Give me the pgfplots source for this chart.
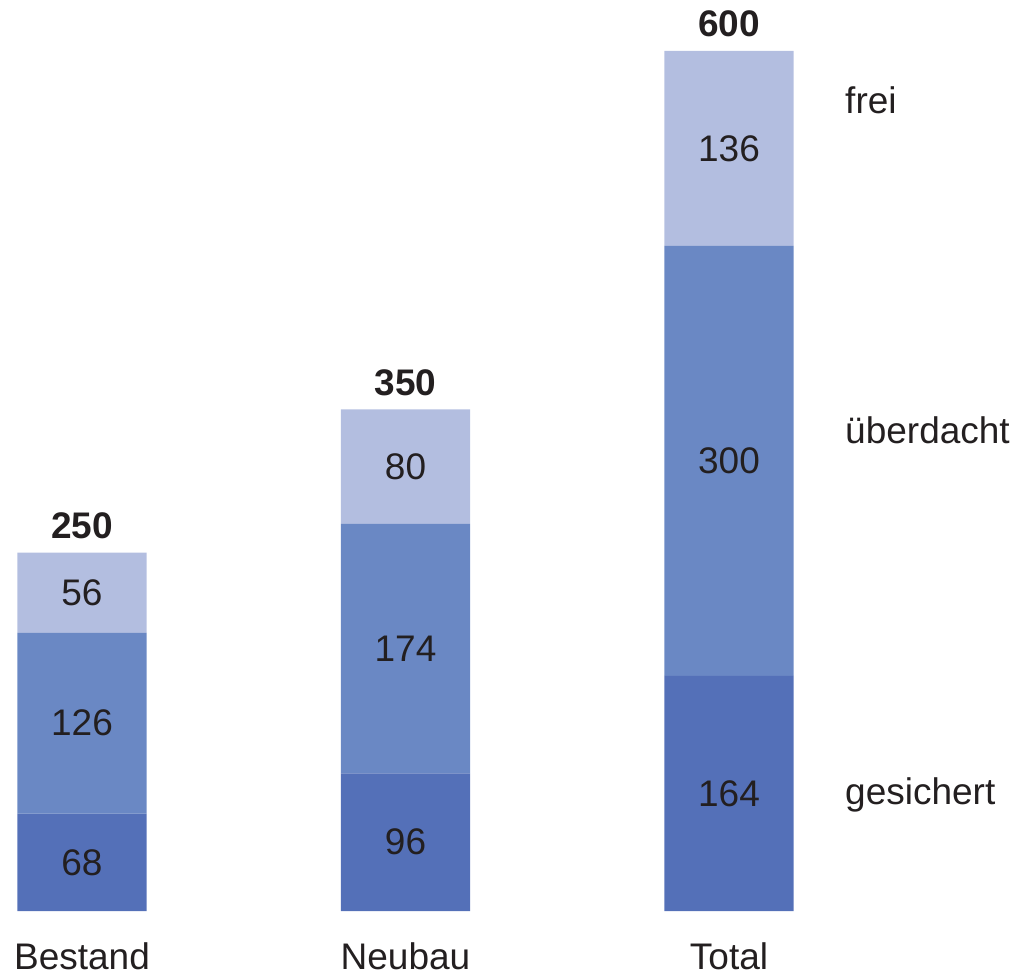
\documentclass[border=0pt]{standalone}
\usepackage{fontspec}
\setmainfont{Liberation Sans}
\usepackage{pgfplots}
\pgfplotsset{compat=1.18}
\definecolor{cDark}{HTML}{5470B8}
\definecolor{cMid}{HTML}{6A88C4}
\definecolor{cLight}{HTML}{B3BEE0}
\definecolor{cText}{HTML}{231F20}
\tikzset{
  lbl/.style={font=\fontsize{37}{44}\selectfont, text=cText, inner sep=0pt},
  tot/.style={font=\fontsize{37}{44}\selectfont\bfseries, text=cText, inner sep=0pt, anchor=base},
}
\begin{document}
\begin{tikzpicture}
\useasboundingbox (0,0) rectangle (1028pt,975pt);
\begin{axis}[
  at={(0,0)}, anchor=south west,
  scale only axis, width=1028pt, height=975pt,
  xmin=-0.25348, xmax=2.92427, ymin=-44.651, ymax=635.58,
  hide axis, clip=false,
  ybar stacked, bar width=0.399,
]
\addplot[fill=cDark, draw=none] coordinates {(0,68) (1,96) (2,164)};
\addplot[fill=cMid, draw=none] coordinates {(0,126) (1,174) (2,300)};
\addplot[fill=cLight, draw=none] coordinates {(0,56) (1,80) (2,136)};
\coordinate (s1) at (axis cs:0,34);
\coordinate (s2) at (axis cs:0,131);
\coordinate (s3) at (axis cs:0,222);
\coordinate (s4) at (axis cs:1,48);
\coordinate (s5) at (axis cs:1,183);
\coordinate (s6) at (axis cs:1,310);
\coordinate (s7) at (axis cs:2,82);
\coordinate (s8) at (axis cs:2,314);
\coordinate (s9) at (axis cs:2,532);
\coordinate (t1) at (axis cs:0,259.8);
\coordinate (t2) at (axis cs:1,359.8);
\coordinate (t3) at (axis cs:2,609.8);
\coordinate (c1) at (axis cs:0,-40.5);
\coordinate (c2) at (axis cs:1,-40.5);
\coordinate (c3) at (axis cs:2,-40.5);
\coordinate (r1) at (axis cs:2.3586,556.7);
\coordinate (r2) at (axis cs:2.3586,326.5);
\coordinate (r3) at (axis cs:2.3586,74.4);
\end{axis}
\node[lbl, anchor=center] at (s1) {68};
\node[lbl, anchor=center] at (s2) {126};
\node[lbl, anchor=center] at (s3) {56};
\node[lbl, anchor=center] at (s4) {96};
\node[lbl, anchor=center] at (s5) {174};
\node[lbl, anchor=center] at (s6) {80};
\node[lbl, anchor=center] at (s7) {164};
\node[lbl, anchor=center] at (s8) {300};
\node[lbl, anchor=center] at (s9) {136};
\node[tot] at (t1) {250};
\node[tot] at (t2) {350};
\node[tot] at (t3) {600};
\node[lbl, anchor=base] at (c1) {Bestand};
\node[lbl, anchor=base] at (c2) {Neubau};
\node[lbl, anchor=base] at (c3) {Total};
\node[lbl, anchor=base west] at (r1) {frei};
\node[lbl, anchor=base west] at (r2) {überdacht};
\node[lbl, anchor=base west] at (r3) {gesichert};
\end{tikzpicture}
\end{document}
